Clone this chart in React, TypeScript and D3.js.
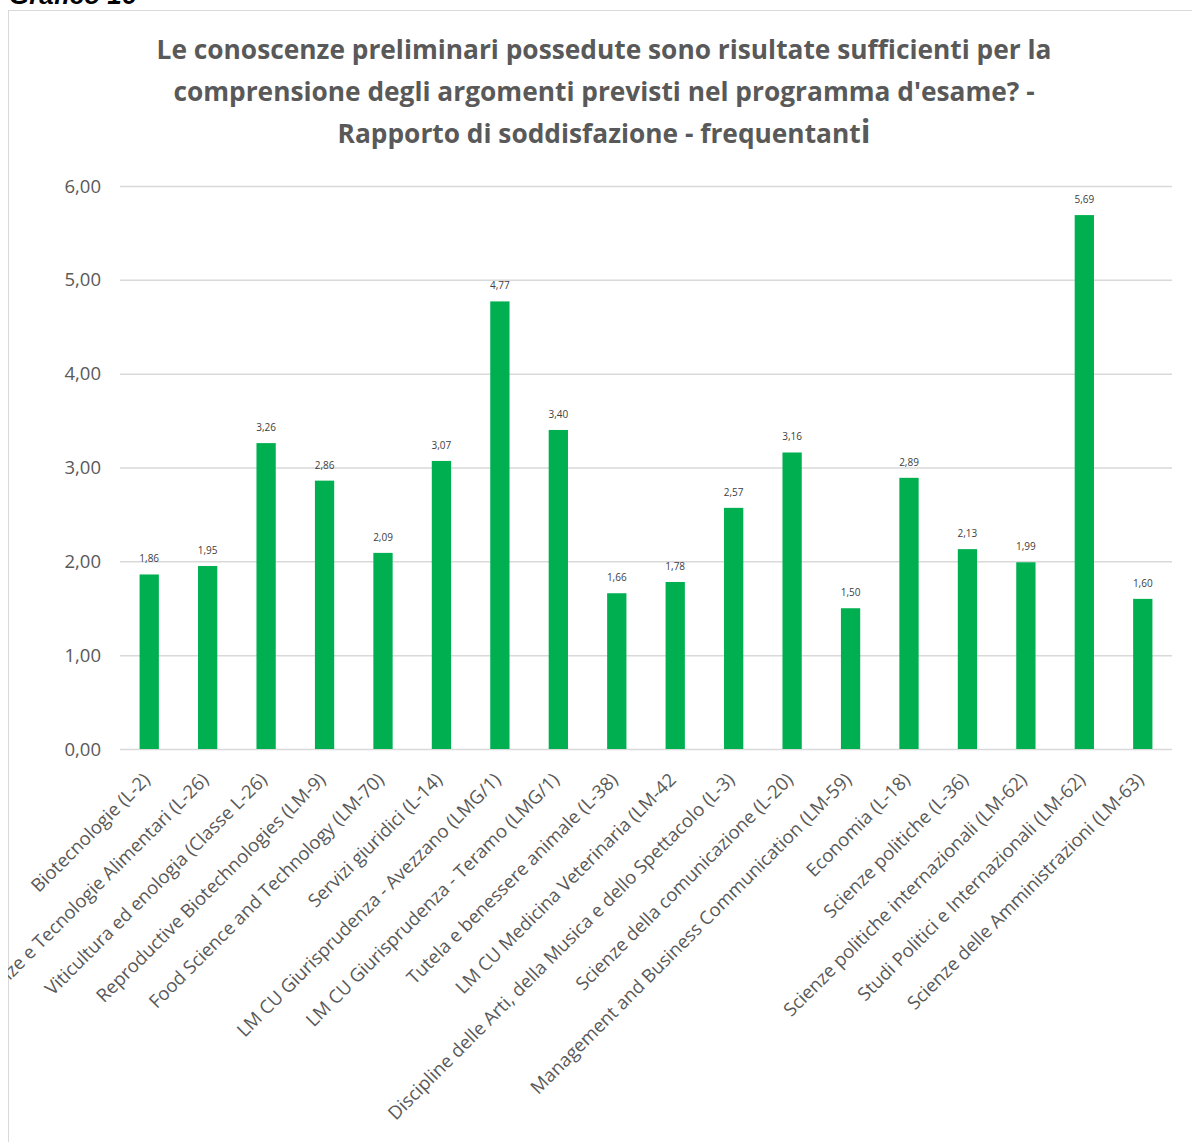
import * as d3 from 'd3'

const categories = [
  'Biotecnologie (L-2)',
  'Scienze e Tecnologie Alimentari (L-26)',
  'Viticultura ed enologia (Classe L-26)',
  'Reproductive Biotechnologies  (LM-9)',
  'Food Science and Technology (LM-70)',
  'Servizi giuridici (L-14)',
  'LM CU Giurisprudenza - Avezzano (LMG/1)',
  'LM CU Giurisprudenza - Teramo (LMG/1)',
  'Tutela e benessere animale (L-38)',
  'LM CU Medicina Veterinaria (LM-42',
  'Discipline delle Arti, della Musica e dello Spettacolo (L-3)',
  'Scienze della comunicazione (L-20)',
  'Management and Business Communication (LM-59)',
  'Economia (L-18)',
  'Scienze politiche (L-36)',
  'Scienze politiche internazionali (LM-62)',
  'Studi Politici e Internazionali (LM-62)',
  'Scienze delle Amministrazioni (LM-63)',
]

const values = [1.86, 1.95, 3.26, 2.86, 2.09, 3.07, 4.77, 3.4, 1.66, 1.78, 2.57, 3.16, 1.5, 2.89, 2.13, 1.99, 5.69, 1.6]

const yTicks = [0, 1, 2, 3, 4, 5, 6]

const titleLines = [
  'Le conoscenze preliminari possedute sono risultate sufficienti per la',
  "comprensione degli argomenti previsti nel programma d'esame? -",
  'Rapporto di soddisfazione - frequentant',
]

const fmt = (v: number) => v.toFixed(2).replace('.', ',')

export default function App() {
  const width = 1192
  const height = 1142
  const plot = { left: 120, right: 1172, top: 186, bottom: 749 }

  const x = d3.scaleBand<string>()
    .domain(categories)
    .range([plot.left, plot.right])
    .paddingInner(0.67)
    .paddingOuter(0.335)

  const y = d3.scaleLinear()
    .domain([0, 6])
    .range([plot.bottom, plot.top])

  const font = '"Open Sans", sans-serif'

  return (
    <svg width={width} height={height} style={{ position: 'absolute', left: 0, top: 0 }}>
      <defs>
        <clipPath id="chartArea">
          <rect x={8} y={10} width={width} height={height} />
        </clipPath>
      </defs>
      <rect x={0} y={0} width={width} height={height} fill="#fff" />
      <text x={9} y={4} fontFamily="'Liberation Sans', Arial, sans-serif" fontWeight="bold" fontStyle="italic" fontSize={26} fill="#000">
        Grafico 16
      </text>
      <rect x={8.5} y={10.5} width={width + 10} height={height + 10} fill="#fff" stroke="#d9d9d9" strokeWidth={1} />

      <g clipPath="url(#chartArea)">
        {titleLines.map((t, i) => (
          <text key={i} x={604} y={59 + i * 42} textAnchor="middle" fontFamily={font} fontWeight="bold" fontSize={26.3} fill="#595959">
            {t}
            {i === 2 && <tspan fontSize={32}>i</tspan>}
          </text>
        ))}

        {yTicks.map(t => (
          <g key={t}>
            <line x1={plot.left} x2={plot.right} y1={y(t) + 0.5} y2={y(t) + 0.5} stroke="#d9d9d9" strokeWidth={1.5} />
            <text x={101} y={y(t) + 6.5} textAnchor="end" fontFamily={font} fontSize={18.5} fill="#595959">
              {fmt(t)}
            </text>
          </g>
        ))}

        {categories.map((c, i) => (
          <g key={c}>
            <rect x={x(c)} y={y(values[i])} width={x.bandwidth()} height={y(0) - y(values[i])} fill="#00b050" />
            <text x={x(c)! + x.bandwidth() / 2} y={y(values[i]) - 12} textAnchor="middle" fontFamily={font} fontSize={10} fill="#404040">
              {fmt(values[i])}
            </text>
            <text
              transform={`translate(${x(c)! + x.bandwidth() / 2 + 2},${plot.bottom + 32}) rotate(-45)`}
              textAnchor="end"
              fontFamily={font}
              fontSize={18.5}
              fill="#595959"
            >
              {c}
            </text>
          </g>
        ))}
      </g>
    </svg>
  )
}
